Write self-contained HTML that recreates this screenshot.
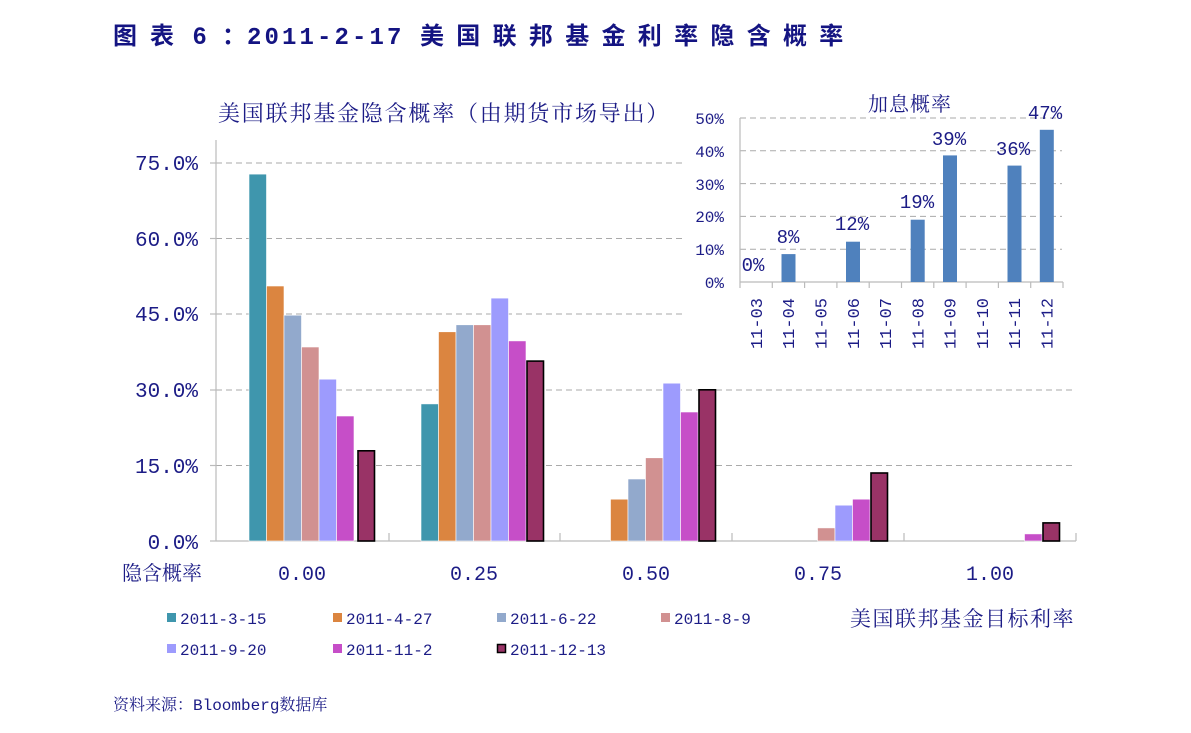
<!DOCTYPE html>
<html><head><meta charset="utf-8"><style>
html,body{margin:0;padding:0;background:#fff;}
svg{display:block;}
.m{font-family:"Liberation Mono","Noto Serif CJK SC",monospace;fill:#1c1c86;}
.c{font-family:"Liberation Serif","Noto Serif CJK SC",serif;fill:#1c1c86;}
</style></head><body>
<svg width="1191" height="733" viewBox="0 0 1191 733" xmlns="http://www.w3.org/2000/svg">
<rect width="1191" height="733" fill="#fff"/>
<!-- title -->
<g font-family="Liberation Sans,Noto Sans CJK SC,sans-serif" font-weight="bold" font-size="24" fill="#141482">
<text x="113" y="44" letter-spacing="13">图表</text>
<text x="193" y="44">6</text>
<text x="222" y="44">：</text>
<text x="247" y="44" font-family="Liberation Mono,monospace" letter-spacing="3.1">2011-2-17</text>
<text x="420" y="44" letter-spacing="12.3">美国联邦基金利率隐含概率</text>
</g>
<text class="c" x="218" y="121" font-size="22" letter-spacing="1.8">美国联邦基金隐含概率（由期货市场导出）</text>
<!-- grid -->
<g stroke="#aaa" stroke-width="1" stroke-dasharray="6,4">
<line x1="216" y1="163" x2="1076" y2="163"/>
<line x1="216" y1="238.5" x2="1076" y2="238.5"/>
<line x1="216" y1="314" x2="1076" y2="314"/>
<line x1="216" y1="390" x2="1076" y2="390"/>
<line x1="216" y1="465.5" x2="1076" y2="465.5"/>
</g>
<g stroke="#bbb" stroke-width="1.2">
<line x1="216" y1="140" x2="216" y2="541"/>
<line x1="216" y1="541" x2="1076" y2="541"/>
<line x1="210" y1="163" x2="216" y2="163"/><line x1="210" y1="238.5" x2="216" y2="238.5"/>
<line x1="210" y1="314" x2="216" y2="314"/><line x1="210" y1="390" x2="216" y2="390"/>
<line x1="210" y1="465.5" x2="216" y2="465.5"/><line x1="210" y1="541" x2="216" y2="541"/>
<line x1="389" y1="533" x2="389" y2="541"/><line x1="560" y1="533" x2="560" y2="541"/>
<line x1="732" y1="533" x2="732" y2="541"/><line x1="904" y1="533" x2="904" y2="541"/>
<line x1="1076" y1="533" x2="1076" y2="541"/>
</g>
<g class="m" font-size="21" text-anchor="end">
<text x="198" y="170">75.0%</text><text x="198" y="246">60.0%</text>
<text x="198" y="321">45.0%</text><text x="198" y="397">30.0%</text>
<text x="198" y="473">15.0%</text><text x="198" y="549">0.0%</text>
</g>
<!-- bars -->
<g stroke="#fff" stroke-width="0.6">
<rect x="249" y="174.1" width="17.5" height="366.9" fill="#3f96ad"/>
<rect x="266.5" y="286" width="17.5" height="255" fill="#db8540"/>
<rect x="284" y="315.2" width="17.5" height="225.8" fill="#92a9cc"/>
<rect x="301.5" y="347" width="17.5" height="194" fill="#d19191"/>
<rect x="319" y="379.2" width="17.5" height="161.8" fill="#9d9bfd"/>
<rect x="336.5" y="416" width="17.5" height="125" fill="#c64ec8"/>

<rect x="421" y="403.9" width="17.5" height="137.1" fill="#3f96ad"/>
<rect x="438.5" y="331.8" width="17.5" height="209.2" fill="#db8540"/>
<rect x="456" y="324.8" width="17.5" height="216.2" fill="#92a9cc"/>
<rect x="473.5" y="324.8" width="17.5" height="216.2" fill="#d19191"/>
<rect x="491" y="298.1" width="17.5" height="242.9" fill="#9d9bfd"/>
<rect x="508.5" y="340.9" width="17.5" height="200.1" fill="#c64ec8"/>

<rect x="610.5" y="499.2" width="17.5" height="41.8" fill="#db8540"/>
<rect x="628" y="479" width="17.5" height="62" fill="#92a9cc"/>
<rect x="645.5" y="457.8" width="17.5" height="83.2" fill="#d19191"/>
<rect x="663" y="383.2" width="17.5" height="157.8" fill="#9d9bfd"/>
<rect x="680.5" y="412" width="17.5" height="129" fill="#c64ec8"/>

<rect x="817.5" y="527.9" width="17.5" height="13.1" fill="#d19191"/>
<rect x="835" y="505.2" width="17.5" height="35.8" fill="#9d9bfd"/>
<rect x="852.5" y="499.2" width="17.5" height="41.8" fill="#c64ec8"/>

<rect x="1024.5" y="533.9" width="17.5" height="7.1" fill="#c64ec8"/>
</g>
<g stroke="#000" stroke-width="1.6" fill="#993366">
<rect x="358" y="450.8" width="16.5" height="90.2"/>
<rect x="527" y="361.1" width="16.5" height="179.9"/>
<rect x="699" y="389.8" width="16.5" height="151.2"/>
<rect x="871" y="473" width="16.5" height="68"/>
<rect x="1043" y="522.9" width="16.5" height="18.1"/>
</g>
<!-- inset -->
<rect x="684" y="88" width="392" height="272" fill="#fff"/>
<text class="c" x="910" y="111" font-size="20" text-anchor="middle" letter-spacing="1">加息概率</text>
<g stroke="#aaa" stroke-dasharray="6,4" stroke-width="1">
<line x1="740" y1="118" x2="1062" y2="118"/><line x1="740" y1="150.8" x2="1062" y2="150.8"/>
<line x1="740" y1="183.6" x2="1062" y2="183.6"/><line x1="740" y1="216.4" x2="1062" y2="216.4"/>
<line x1="740" y1="249.2" x2="1062" y2="249.2"/>
</g>
<g stroke="#bbb" stroke-width="1.2">
<line x1="740" y1="118" x2="740" y2="288"/>
<line x1="740" y1="282" x2="1063" y2="282"/>
<line x1="772.3" y1="282" x2="772.3" y2="288"/><line x1="804.6" y1="282" x2="804.6" y2="288"/>
<line x1="836.9" y1="282" x2="836.9" y2="288"/><line x1="869.2" y1="282" x2="869.2" y2="288"/>
<line x1="901.5" y1="282" x2="901.5" y2="288"/><line x1="933.8" y1="282" x2="933.8" y2="288"/>
<line x1="966.1" y1="282" x2="966.1" y2="288"/><line x1="998.4" y1="282" x2="998.4" y2="288"/>
<line x1="1030.7" y1="282" x2="1030.7" y2="288"/><line x1="1063" y1="282" x2="1063" y2="288"/>
</g>
<g fill="#4f81bd">
<rect x="781.5" y="254.1" width="14" height="27.9"/>
<rect x="846" y="241.7" width="14" height="40.3"/>
<rect x="910.7" y="219.7" width="14" height="62.3"/>
<rect x="943" y="155.4" width="14" height="126.6"/>
<rect x="1007.5" y="165.6" width="14" height="116.4"/>
<rect x="1039.8" y="129.8" width="14" height="152.2"/>
</g>
<g class="m" font-size="16" text-anchor="end">
<text x="724" y="124">50%</text><text x="724" y="157">40%</text><text x="724" y="190">30%</text>
<text x="724" y="222">20%</text><text x="724" y="255">10%</text><text x="724" y="288">0%</text>
</g>
<g class="m" font-size="19" text-anchor="middle">
<text x="753" y="271">0%</text><text x="788" y="243">8%</text><text x="852" y="230">12%</text>
<text x="917" y="208">19%</text><text x="949" y="145">39%</text><text x="1013" y="155">36%</text>
<text x="1045" y="119">47%</text>
</g>
<g class="m" font-size="17" text-anchor="end">
<text transform="translate(762,298) rotate(-90)">11-03</text>
<text transform="translate(794,298) rotate(-90)">11-04</text>
<text transform="translate(826.5,298) rotate(-90)">11-05</text>
<text transform="translate(859,298) rotate(-90)">11-06</text>
<text transform="translate(891,298) rotate(-90)">11-07</text>
<text transform="translate(923.5,298) rotate(-90)">11-08</text>
<text transform="translate(955.5,298) rotate(-90)">11-09</text>
<text transform="translate(988,298) rotate(-90)">11-10</text>
<text transform="translate(1020,298) rotate(-90)">11-11</text>
<text transform="translate(1052.5,298) rotate(-90)">11-12</text>
</g>
<!-- x labels -->
<text class="c" x="122" y="580" font-size="20">隐含概率</text>
<g class="m" font-size="20" text-anchor="middle">
<text x="302" y="580">0.00</text><text x="474" y="580">0.25</text><text x="646" y="580">0.50</text>
<text x="818" y="580">0.75</text><text x="990" y="580">1.00</text>
</g>
<!-- legend -->
<g>
<rect x="167" y="613" width="9" height="9" fill="#3f96ad"/>
<rect x="333" y="613" width="9" height="9" fill="#db8540"/>
<rect x="497" y="613" width="9" height="9" fill="#92a9cc"/>
<rect x="661" y="613" width="9" height="9" fill="#d19191"/>
<rect x="167" y="644" width="9" height="9" fill="#9d9bfd"/>
<rect x="333" y="644" width="9" height="9" fill="#c64ec8"/>
<rect x="497.5" y="644.5" width="8" height="8" fill="#993366" stroke="#000" stroke-width="1.5"/>
</g>
<g class="m" font-size="16">
<text x="180" y="624">2011-3-15</text><text x="346" y="624">2011-4-27</text>
<text x="510" y="624">2011-6-22</text><text x="674" y="624">2011-8-9</text>
<text x="180" y="655">2011-9-20</text><text x="346" y="655">2011-11-2</text>
<text x="510" y="655">2011-12-13</text>
</g>
<text class="c" x="1075" y="626" font-size="21" text-anchor="end" letter-spacing="1.5">美国联邦基金目标利率</text>
<text x="113" y="710" font-size="16" fill="#1c1c86" font-family="Liberation Mono,Noto Serif CJK SC,serif">资料来源：Bloomberg数据库</text>
</svg>
</body></html>
